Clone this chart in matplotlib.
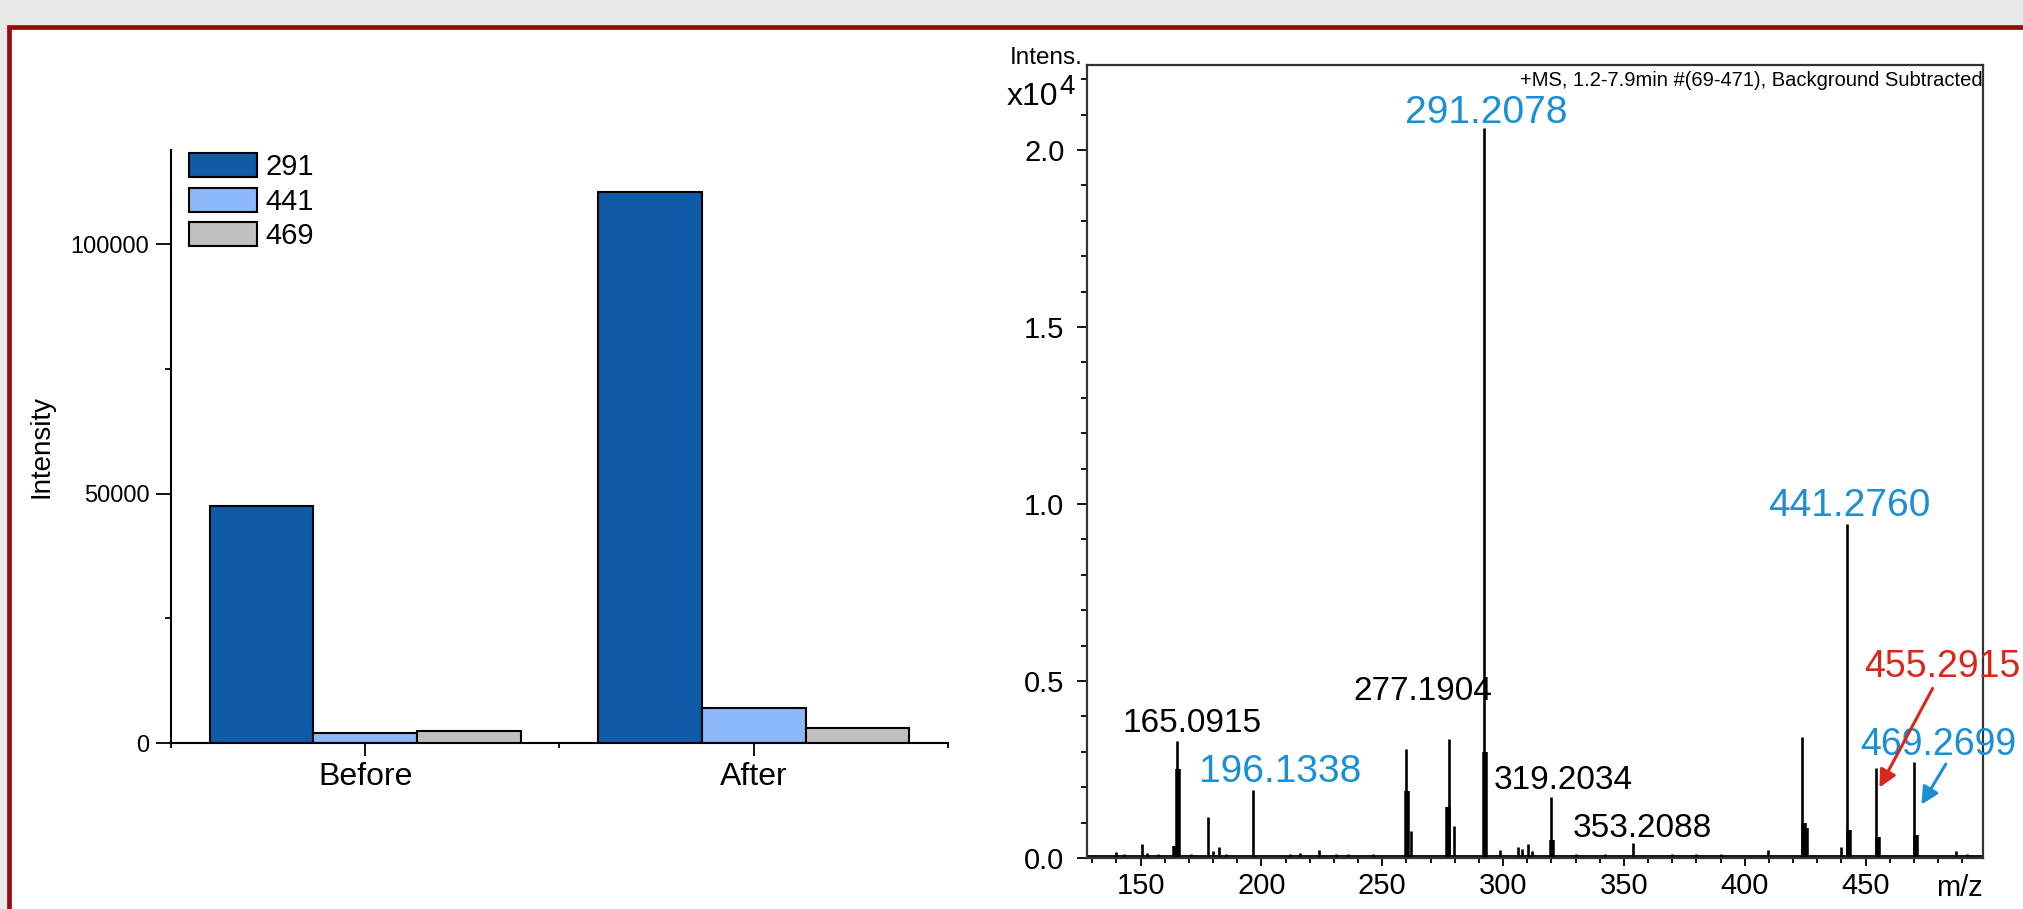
import matplotlib
matplotlib.use("Agg")
import matplotlib.pyplot as plt
from matplotlib.patches import Rectangle
from matplotlib.ticker import MultipleLocator, FixedLocator
import numpy as np

plt.rcParams['font.family'] = ['Liberation Sans', 'DejaVu Sans']

# ---- left chart: bar intensities ----
groups = ['Before', 'After']
series = ['291', '441', '469']
vals_291 = [47600, 110400]
vals_441 = [2000, 7000]
vals_469 = [2500, 3000]
bar_colors = ['#0F5BA8', '#8BB8F8', '#C0C0C0']

# ---- right chart: MS spectrum (x10^4) ----
peak_mz = [139.6, 143.0, 150.7, 152.5, 157.0, 165.2, 171.0, 178.0, 180.0, 182.5, 185.5,
           196.4, 212.0, 216.0, 224.0, 231.0, 236.0, 246.0, 260.0, 262.0, 277.5, 279.7,
           292.2, 298.6, 306.0, 308.0, 310.2, 312.0, 319.9, 330.0, 342.0, 353.7, 370.0,
           380.0, 390.0, 409.8, 423.7, 440.0, 442.3, 454.5, 470.1, 487.4, 492.0]
peak_int = [0.018, 0.01, 0.039, 0.015, 0.01, 0.330, 0.012, 0.115, 0.02, 0.032, 0.012,
            0.192, 0.012, 0.014, 0.022, 0.012, 0.012, 0.012, 0.308, 0.076, 0.337, 0.090,
            2.061, 0.023, 0.030, 0.025, 0.040, 0.020, 0.173, 0.012, 0.012, 0.041, 0.012,
            0.012, 0.012, 0.023, 0.342, 0.030, 0.943, 0.255, 0.270, 0.020, 0.012]
# broad lower parts of the bigger peaks
base_mz = [164.4, 165.5, 260.4, 277.0, 292.6, 320.3, 424.4, 425.5, 443.0, 455.0, 471.0]
base_int = [0.035, 0.25, 0.19, 0.145, 0.30, 0.05, 0.10, 0.085, 0.08, 0.06, 0.065]

peak_labels = ['291.2078', '165.0915', '196.1338', '277.1904', '319.2034', '353.2088',
               '441.2760', '455.2915', '469.2699']
label_colors = ['#1A8FD6', 'k', '#1A8FD6', 'k', 'k', 'k', '#1A8FD6', '#D8281E', '#1A8FD6']

fig = plt.figure(figsize=(20.24, 9.09), dpi=100)
fig.patch.set_facecolor('#E9E9E9')
fig.patches.append(Rectangle((8.5 / 2024, -0.2), 1.5, 1.2 - 27 / 909,
                             transform=fig.transFigure, facecolor='white',
                             edgecolor='#9A0A0A', lw=3.4, zorder=-10))

# ================= left: bar chart =================
ax1 = fig.add_axes([171 / 2024, 1 - 743.2 / 909, (948 - 171) / 2024, (743.2 - 149.6) / 909])
ax1.set_facecolor('none')
x = np.arange(1, len(groups) + 1)
w = 0.8 / 3
for i, (vals, lab) in enumerate(zip([vals_291, vals_441, vals_469], series)):
    ax1.bar(x + (i - 1) * w, vals, width=w, color=bar_colors[i], edgecolor='black',
            linewidth=1.5, label=lab)
ax1.set_xlim(0.5, 2.5)
ax1.set_ylim(0, 119000)
ax1.spines['top'].set_visible(False)
ax1.spines['right'].set_visible(False)
for s in ['left', 'bottom']:
    ax1.spines[s].set_linewidth(1.5)
ax1.set_yticks([0, 50000, 100000])
ax1.yaxis.set_minor_locator(MultipleLocator(25000))
ax1.set_xticks(x)
ax1.set_xticklabels(groups, fontsize=23)
ax1.xaxis.set_minor_locator(FixedLocator([0.5, 1.5, 2.5]))
ax1.tick_params(axis='y', which='major', direction='out', length=10.5, width=1.3,
                labelsize=17, pad=5)
ax1.tick_params(axis='y', which='minor', direction='out', length=4.3, width=1.3)
ax1.tick_params(axis='x', which='major', direction='out', length=9.4, width=1.3, pad=4)
ax1.tick_params(axis='x', which='minor', direction='out', length=3.6, width=1.3)
ax1.set_ylabel('Intensity', fontsize=20, labelpad=12)
ax1.legend(loc='upper left', bbox_to_anchor=(189 / 2024, 1 - 153 / 909),
           bbox_transform=fig.transFigure, frameon=False, fontsize=21,
           handlelength=2.33, handleheight=0.9, handletextpad=0.3,
           labelspacing=0.22, borderpad=0, borderaxespad=0)

# ================= right: mass spectrum =================
ax2 = fig.add_axes([1087 / 2024, 1 - 858 / 909, (1983 - 1087) / 2024, (858 - 65) / 909])
ax2.set_xlim(127.8, 498.6)
ax2.set_ylim(0, 2.24)
ax2.axhline(0.006, color='black', lw=1.3, zorder=2)
ax2.vlines(peak_mz, 0, peak_int, color='black', lw=1.9)
ax2.vlines(base_mz, 0, base_int, color='black', lw=4)
for s in ax2.spines.values():
    s.set_linewidth(1.6)
    s.set_color('#333333')
ax2.set_yticks([0, 0.5, 1.0, 1.5, 2.0])
ax2.set_yticklabels(['0.0', '0.5', '1.0', '1.5', '2.0'])
ax2.yaxis.set_minor_locator(MultipleLocator(0.1))
ax2.set_xticks([150, 200, 250, 300, 350, 400, 450])
ax2.xaxis.set_minor_locator(MultipleLocator(10))
ax2.tick_params(axis='y', which='major', direction='out', length=7.2, width=1.3,
                labelsize=21, pad=9)
ax2.tick_params(axis='y', which='minor', direction='out', length=4.3, width=1.3)
ax2.tick_params(axis='x', which='major', direction='out', length=5.8, width=1.3,
                labelsize=21, pad=4)
ax2.tick_params(axis='x', which='minor', direction='out', length=3.6, width=1.3)
ax2.text(489, -0.045, 'm/z', fontsize=21, ha='center', va='top')

# header texts
ax2.text(1.0, 0.993, '+MS, 1.2-7.9min #(69-471), Background Subtracted',
         transform=ax2.transAxes, ha='right', va='top', fontsize=14.5)
fig.text(1083 / 2024, 1 - 69 / 909, 'Intens.', ha='right', va='bottom', fontsize=17.5)
fig.text(1058 / 2024, 1 - 97 / 909, 'x10', ha='right', va='center', fontsize=23)
fig.text(1059 / 2024, 1 - 87 / 909, '4', ha='left', va='center', fontsize=20)

# peak labels
label_xy = [(292.9, 2.105), (171.1, 0.379), (207.6, 0.244), (266.6, 0.47), (324.7, 0.218),
            (357.8, 0.084), (443.1, 0.995)]
label_size = [28, 24, 28, 24, 24, 24, 28]
for (lx, ly), txt, c, fs in zip(label_xy, peak_labels[:7], label_colors[:7], label_size):
    ax2.text(lx, ly, txt, color=c, fontsize=fs, ha='center', va='center')
ax2.text(449.6, 0.539, peak_labels[7], color=label_colors[7], fontsize=27,
         ha='left', va='center', clip_on=False)
ax2.text(447.7, 0.319, peak_labels[8], color=label_colors[8], fontsize=27,
         ha='left', va='center', clip_on=False)
ax2.annotate('', xy=(455.2, 0.192), xytext=(478.3, 0.486),
             arrowprops=dict(arrowstyle='-|>', color='#D8281E', lw=2.2, mutation_scale=26))
ax2.annotate('', xy=(472.5, 0.144), xytext=(483.8, 0.272),
             arrowprops=dict(arrowstyle='-|>', color='#1A8FD6', lw=2.2, mutation_scale=26))

fig.savefig('out.png', dpi=100, facecolor=fig.get_facecolor())
